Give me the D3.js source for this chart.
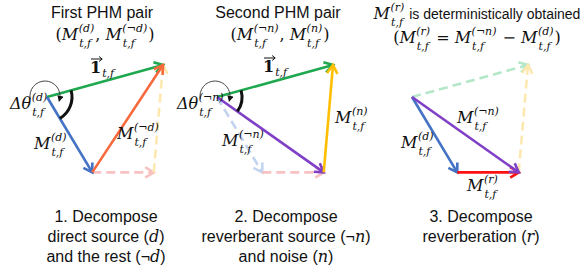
<!DOCTYPE html>
<html>
<head>
<meta charset="utf-8">
<script src="https://cdn.jsdelivr.net/npm/d3@7"></script>
<style>
  body { margin: 0; background: #fff; }
  text { white-space: pre; }
  .sans { font-family: "Liberation Sans", Arial, sans-serif; font-size: 16px; fill: #111; }
  .mi { font-family: "DejaVu Serif", serif; font-style: italic; font-size: 16px; fill: #111; }
  .mu { font-family: "DejaVu Serif", serif; font-size: 16px; fill: #111; }
  .ms { font-family: "DejaVu Serif", serif; font-style: italic; font-size: 11px; fill: #111; }
</style>
</head>
<body>
<svg id="svg" width="584" height="268"></svg>
<script>
// vectors, in units of |1| (x right, y up), origin = 0
var vecOne  = [1.0, 0.276];
var vecD    = [0.39, -0.65];
var vecNotN = [0.92, -0.65];

var titles1 = ["First PHM pair", "Second PHM pair", " is deterministically obtained"];
var captions = [
  [["1. Decompose"], ["direct source ", "(", "d", ")"], ["and the rest ", "(¬", "d", ")"]],
  [["2. Decompose"], ["reverberant source ", "(¬", "n", ")"], ["and noise ", "(", "n", ")"]],
  [["3. Decompose"], ["reverberation ", "(", "r", ")"]]
];

var col = {
  green: "#1fa84f", blue: "#4472c4", orange: "#f86a3d", purple: "#7f3fc6",
  yellow: "#ffbf00", red: "#ff1010",
  pinkD: "#f9c2c2", yellowD: "#fde8b0", blueD: "#c4d3ef", greenD: "#b4e6c8"
};

var svg = d3.select("#svg");
var unit = 116, oy = 97;
var originsX = [47, 217, 412];

var defs = svg.append("defs");
defs.append("marker").attr("id", "tri")
  .attr("viewBox", "0 0 10 10").attr("refX", 6).attr("refY", 5)
  .attr("markerWidth", 7).attr("markerHeight", 7).attr("orient", "auto")
  .append("path").attr("d", "M0,0 L10,5 L0,10 z").attr("fill", "#111");

function arrow(g, x, y, from, to, color, dashed) {
  var x0 = x(from[0]), y0 = y(from[1]), x1 = x(to[0]), y1 = y(to[1]);
  var ang = Math.atan2(y1 - y0, x1 - x0), L = 10, h = 0.55;
  g.append("line").attr("x1", x0).attr("y1", y0).attr("x2", x1).attr("y2", y1)
    .attr("stroke", color).attr("stroke-width", 2.6)
    .attr("stroke-dasharray", dashed ? "9,5" : null);
  var a = [x1 - L * Math.cos(ang - h), y1 - L * Math.sin(ang - h)];
  var b = [x1 - L * Math.cos(ang + h), y1 - L * Math.sin(ang + h)];
  g.append("path").attr("d", "M" + a + "L" + [x1, y1] + "L" + b)
    .attr("fill", "none").attr("stroke", color).attr("stroke-width", 2.6)
    .attr("stroke-linejoin", "miter").attr("stroke-linecap", "butt");
}

function angleArc(g, x, y, v1, v2) {
  var cx = x(0), cy = y(0), r = 25;
  var a1 = Math.atan2(y(v1[1]) - cy, x(v1[0]) - cx);
  var a2 = Math.atan2(y(v2[1]) - cy, x(v2[0]) - cx);
  g.append("path")
    .attr("d", "M" + [cx + r * Math.cos(a1), cy + r * Math.sin(a1)] +
      "A" + r + "," + r + " 0 0 1 " + [cx + r * Math.cos(a2), cy + r * Math.sin(a2)])
    .attr("fill", "none").attr("stroke", "#111").attr("stroke-width", 3);
  // thin curved arrow looping round the origin
  var rr = 15, s = 168 * Math.PI / 180, e = 14 * Math.PI / 180;
  var c0 = [cx - 2, cy - 1];
  g.append("path")
    .attr("d", "M" + [c0[0] + rr * Math.cos(s), c0[1] + rr * Math.sin(s)] +
      "A" + rr + "," + rr + " 0 1 1 " + [c0[0] + rr * Math.cos(e), c0[1] + rr * Math.sin(e)])
    .attr("fill", "none").attr("stroke", "#333").attr("stroke-width", 0.9)
    .attr("marker-end", "url(#tri)");
}

// lays out a run of math / text pieces at (x,y)
function mathRun(items, x, y, anchor) {
  var g = svg.append("g");
  var cx = 0;
  items.forEach(function (it) {
    var t;
    if (typeof it === "string") {
      t = g.append("text").attr("class", "mu").attr("x", cx).text(it);
      cx += t.node().getComputedTextLength();
    } else if (it.sans) {
      t = g.append("text").attr("class", "sans").attr("x", cx)
        .style("font-size", it.size + "px").text(it.sans);
      cx += t.node().getComputedTextLength();
    } else if (it.one) {
      t = g.append("text").attr("class", "mu").attr("x", cx)
        .style("font-weight", "bold").text("1");
      var w = t.node().getComputedTextLength();
      g.append("path").attr("d", "M" + [cx + 1, -14] + "L" + [cx + w + 1, -14] +
        "M" + [cx + w - 2, -16.5] + "L" + [cx + w + 1, -14] + "L" + [cx + w - 2, -11.5])
        .attr("fill", "none").attr("stroke", "#111").attr("stroke-width", 1);
      cx += w + 1;
      var s = g.append("text").attr("class", "ms").attr("x", cx).attr("y", 4).text(it.sub);
      cx += s.node().getComputedTextLength();
    } else {
      t = g.append("text").attr("class", "mi").attr("x", cx).text(it[0]);
      cx += t.node().getComputedTextLength() + 0.5;
      var ww = 0;
      if (it[1]) {
        var s1 = g.append("text").attr("class", "ms").attr("x", cx).attr("y", -8.5).text(it[1]);
        ww = Math.max(ww, s1.node().getComputedTextLength());
      }
      if (it[2]) {
        var s2 = g.append("text").attr("class", "ms").attr("x", cx + 0.5).attr("y", 6.5).text(it[2]);
        ww = Math.max(ww, s2.node().getComputedTextLength() + 0.5);
      }
      cx += ww + 1;
    }
  });
  var off = anchor === "middle" ? -cx / 2 : anchor === "end" ? -cx : 0;
  g.attr("transform", "translate(" + (x + off) + "," + y + ")");
}

var panels = originsX.map(function (ox) {
  return {
    g: svg.append("g"),
    x: d3.scaleLinear().domain([0, 1]).range([ox, ox + unit]),
    y: d3.scaleLinear().domain([0, 1]).range([oy, oy - unit])
  };
});
var O = [0, 0];

// panel 1
(function (p) {
  arrow(p.g, p.x, p.y, vecD, vecNotN, col.pinkD, true);
  arrow(p.g, p.x, p.y, vecNotN, vecOne, col.yellowD, true);
  arrow(p.g, p.x, p.y, O, vecOne, col.green);
  arrow(p.g, p.x, p.y, O, vecD, col.blue);
  arrow(p.g, p.x, p.y, vecD, vecOne, col.orange);
  angleArc(p.g, p.x, p.y, vecOne, vecD);
})(panels[0]);

// panel 2
(function (p) {
  arrow(p.g, p.x, p.y, O, vecD, col.blueD, true);
  arrow(p.g, p.x, p.y, vecD, vecNotN, col.pinkD, true);
  arrow(p.g, p.x, p.y, O, vecOne, col.green);
  arrow(p.g, p.x, p.y, O, vecNotN, col.purple);
  arrow(p.g, p.x, p.y, vecNotN, vecOne, col.yellow);
  angleArc(p.g, p.x, p.y, vecOne, vecNotN);
})(panels[1]);

// panel 3
(function (p) {
  arrow(p.g, p.x, p.y, O, vecOne, col.greenD, true);
  arrow(p.g, p.x, p.y, vecNotN, vecOne, col.yellowD, true);
  arrow(p.g, p.x, p.y, O, vecD, col.blue);
  arrow(p.g, p.x, p.y, vecD, vecNotN, col.red);
  arrow(p.g, p.x, p.y, O, vecNotN, col.purple);
})(panels[2]);

// titles
svg.append("text").attr("class", "sans").attr("x", 102).attr("y", 18)
  .attr("text-anchor", "middle").text(titles1[0]);
svg.append("text").attr("class", "sans").attr("x", 278).attr("y", 18)
  .attr("text-anchor", "middle").text(titles1[1]);
mathRun(["(", ["M", "(d)", "t,f"], ", ", ["M", "(¬d)", "t,f"], ")"], 105, 40, "middle");
mathRun(["(", ["M", "(¬n)", "t,f"], ", ", ["M", "(n)", "t,f"], ")"], 280, 40, "middle");
mathRun([["M", "(r)", "t,f"], {sans: titles1[2], size: 14}], 477, 19, "middle");
mathRun(["(", ["M", "(r)", "t,f"], " = ", ["M", "(¬n)", "t,f"], " − ", ["M", "(d)", "t,f"], ")"], 477, 43, "middle");

// vector labels
mathRun([{one: true, sub: "t,f"}], 90, 73);
mathRun([{one: true, sub: "t,f"}], 263, 72);
mathRun([["Δθ", "(d)", "t,f"]], 10, 109);
mathRun([["Δθ", "(¬n)", "t,f"]], 177, 109);
mathRun([["M", "(d)", "t,f"]], 34, 149);
mathRun([["M", "(¬d)", "t,f"]], 117, 139);
mathRun([["M", "(¬n)", "t,f"]], 222, 146);
mathRun([["M", "(n)", "t,f"]], 335, 123);
mathRun([["M", "(¬n)", "t,f"]], 457, 123);
mathRun([["M", "(d)", "t,f"]], 401, 148);
mathRun([["M", "(r)", "t,f"]], 467, 191);

// captions
var capX = [106, 286, 481];
captions.forEach(function (lines, i) {
  lines.forEach(function (parts, j) {
    var t = svg.append("text").attr("class", "sans").attr("x", capX[i]).attr("y", 222 + j * 20)
      .attr("text-anchor", "middle");
    parts.forEach(function (s, k) {
      var ts = t.append("tspan").text(s);
      if (k === 2) ts.style("font-family", "DejaVu Serif, serif").style("font-style", "italic");
    });
  });
});
</script>
</body>
</html>
